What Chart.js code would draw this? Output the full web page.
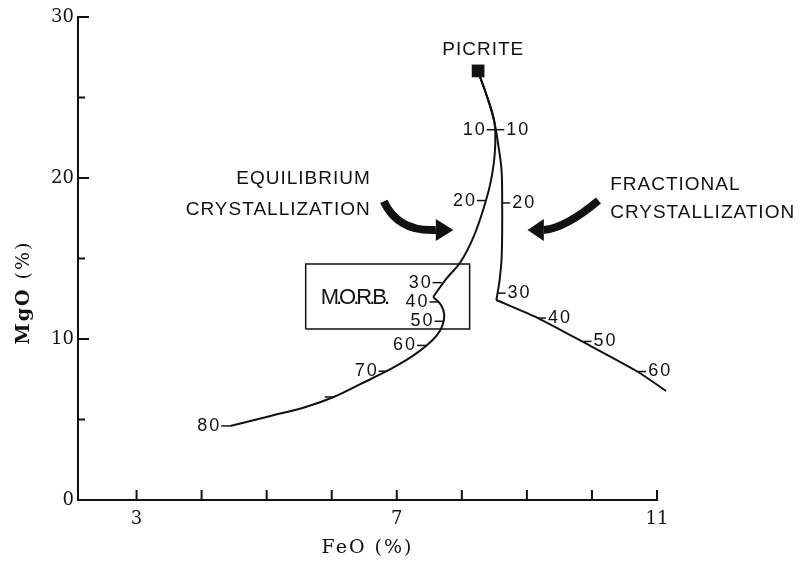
<!DOCTYPE html>
<html>
<head>
<meta charset="utf-8">
<title>MgO vs FeO - crystallization of picrite</title>
<script src="https://cdn.jsdelivr.net/npm/chart.js@4.4.1/dist/chart.umd.min.js"></script>
<style>
  html, body { margin: 0; padding: 0; background: #fff; }
  #wrap { width: 804px; height: 564px; position: relative; }
</style>
</head>
<body>
<div id="wrap"><canvas id="chart"></canvas></div>
<script>
// ---- data: FeO (%) on x, MgO (%) on y ----
const picriteFeO = [8.25];
const picriteMgO = [26.65];

// equilibrium crystallization path (split at the kink near 40 %)
const eqUpperFeO = [8.25, 8.38, 8.50, 8.51, 8.45, 8.35, 8.18, 7.98, 7.76, 7.56];
const eqUpperMgO = [26.6, 25.15, 23.48, 21.74, 19.88, 18.32, 16.34, 14.78, 13.73, 12.61];
const eqLowerFeO = [7.56, 7.68, 7.73, 7.70, 7.61, 7.45, 7.24, 7.02, 6.79, 6.44, 6.03, 5.60, 5.06, 4.44];
const eqLowerMgO = [12.61, 12.11, 11.49, 10.81, 10.19, 9.57, 8.94, 8.39, 7.89, 7.20, 6.40, 5.78, 5.22, 4.60];

// fractional crystallization path (split at the corner near 30 %)
const frUpperFeO = [8.25, 8.38, 8.50, 8.56, 8.61, 8.62, 8.62, 8.61, 8.58, 8.55, 8.53];
const frUpperMgO = [26.6, 25.15, 23.48, 22.05, 20.5, 18.63, 16.77, 14.91, 13.66, 12.86, 12.42];
const frLowerFeO = [8.53, 9.17, 9.87, 10.71, 11.14];
const frLowerMgO = [12.42, 11.3, 9.8, 7.95, 6.77];

// percent-crystallized marks along each path
const eqMarkLabels = ['10', '20', '30', '40', '50', '60', '70', '', '80'];
const eqMarkFeO = [8.52, 8.37, 7.69, 7.64, 7.72, 7.45, 6.86, 6.03, 4.44];
const eqMarkMgO = [23.0, 18.6, 13.5, 12.3, 11.1, 9.6, 8.0, 6.4, 4.6];
const frMarkLabels = ['10', '20', '30', '40', '50', '60'];
const frMarkFeO = [8.53, 8.62, 8.55, 9.17, 9.87, 10.71];
const frMarkMgO = [23.0, 18.45, 12.85, 11.3, 9.85, 7.98];

// M.O.R.B. field
const morbFeO = [5.60, 8.12, 8.12, 5.60, 5.60];
const morbMgO = [10.62, 10.62, 14.66, 14.66, 10.62];

// axes
const xTickValues = [3, 4, 5, 6, 7, 8, 9, 10, 11];
const xTickLabels = [3, 7, 11];
const yTickValues = [0, 5, 10, 15, 20, 25, 30];
const yTickLabels = [0, 10, 20, 30];

const INK = '#111';
const SERIF = '"DejaVu Serif", serif';
const SANS = '"Liberation Sans", Arial, sans-serif';

const toPoints = (xs, ys) => xs.map((v, i) => ({ x: v, y: ys[i] }));

function lineSet(xs, ys, tension) {
    return {
        data: toPoints(xs, ys),
        showLine: true,
        borderColor: INK,
        borderWidth: 2,
        pointRadius: 0,
        tension: tension,
        clip: false
    };
}

// draws inward axis ticks, path marks, arrows and lettering
const annotate = {
    id: 'annotate',
    afterDraw(chart) {
        const { ctx, chartArea: area, scales: { x, y } } = chart;
        const X = v => x.getPixelForValue(v);
        const Y = v => y.getPixelForValue(v);
        ctx.save();
        ctx.strokeStyle = INK;
        ctx.fillStyle = INK;

        // inward tick marks
        ctx.lineWidth = 2;
        xTickValues.forEach(v => {
            ctx.beginPath();
            ctx.moveTo(X(v), area.bottom);
            ctx.lineTo(X(v), area.bottom - 10);
            ctx.stroke();
        });
        yTickValues.forEach(v => {
            if (v === 0) return;
            const len = yTickLabels.includes(v) ? 11 : 7;
            ctx.beginPath();
            ctx.moveTo(area.left, Y(v));
            ctx.lineTo(area.left + len, Y(v));
            ctx.stroke();
        });

        // percent marks on the two paths
        ctx.lineWidth = 1.5;
        ctx.font = '18px ' + SANS;
        ctx.letterSpacing = '2px';
        ctx.textBaseline = 'middle';
        eqMarkLabels.forEach((lab, i) => {
            const px = X(eqMarkFeO[i]), py = Y(eqMarkMgO[i]);
            ctx.beginPath();
            ctx.moveTo(px, py);
            ctx.lineTo(px - 9, py);
            ctx.stroke();
            ctx.textAlign = 'right';
            ctx.fillText(lab, px - 9, py);
        });
        frMarkLabels.forEach((lab, i) => {
            const px = X(frMarkFeO[i]), py = Y(frMarkMgO[i]);
            ctx.beginPath();
            ctx.moveTo(px, py);
            ctx.lineTo(px + 8, py);
            ctx.stroke();
            ctx.textAlign = 'left';
            ctx.fillText(lab, px + 10, py);
        });

        // curved arrows
        function arrow(tail, ctrl, base, tip, half) {
            ctx.lineWidth = 8;
            ctx.lineCap = 'butt';
            ctx.beginPath();
            ctx.moveTo(X(tail[0]), Y(tail[1]));
            ctx.quadraticCurveTo(X(ctrl[0]), Y(ctrl[1]), X(base[0]), Y(base[1]));
            ctx.stroke();
            ctx.beginPath();
            ctx.moveTo(X(tip[0]), Y(tip[1]));
            ctx.lineTo(X(base[0]), Y(base[1]) - half);
            ctx.lineTo(X(base[0]), Y(base[1]) + half);
            ctx.closePath();
            ctx.fill();
        }
        arrow([6.80, 18.55], [7.02, 16.65], [7.60, 16.77], [7.87, 16.77], 11);
        arrow([10.10, 18.60], [9.60, 16.90], [9.26, 16.77], [9.01, 16.77], 11);

        // lettering
        ctx.font = '19px ' + SANS;
        ctx.letterSpacing = '1px';
        ctx.textAlign = 'center';
        ctx.fillText('PICRITE', X(8.33), Y(27.95));
        ctx.textAlign = 'right';
        ctx.fillText('EQUILIBRIUM', X(6.60), Y(19.97));
        ctx.fillText('CRYSTALLIZATION', X(6.60), Y(18.01));
        ctx.textAlign = 'left';
        ctx.fillText('FRACTIONAL', X(10.28), Y(19.57));
        ctx.fillText('CRYSTALLIZATION', X(10.28), Y(17.83));
        ctx.font = '22px ' + SANS;
        ctx.letterSpacing = '-3px';
        ctx.fillText('M.O.R.B.', X(5.83), Y(12.52));

        // axis titles
        ctx.letterSpacing = '2px';
        ctx.font = '19px ' + SERIF;
        ctx.textAlign = 'center';
        ctx.fillText('FeO (%)', (area.left + area.right) / 2, area.bottom + 48);

        ctx.translate(area.left - 54, (area.top + area.bottom) / 2 + 34);
        ctx.rotate(-Math.PI / 2);
        ctx.font = 'bold 19px ' + SERIF;
        const w1 = ctx.measureText('MgO').width;
        ctx.font = '19px ' + SERIF;
        const w2 = ctx.measureText(' (%)').width;
        ctx.textAlign = 'left';
        ctx.font = 'bold 19px ' + SERIF;
        ctx.fillText('MgO', -(w1 + w2) / 2, 0);
        ctx.font = '19px ' + SERIF;
        ctx.fillText(' (%)', -(w1 + w2) / 2 + w1, 0);

        ctx.restore();
    }
};

Chart.defaults.font.family = SERIF;
Chart.defaults.color = INK;

new Chart(document.getElementById('chart'), {
    type: 'scatter',
    data: {
        datasets: [
            lineSet(eqUpperFeO, eqUpperMgO, 0.4),
            lineSet(eqLowerFeO, eqLowerMgO, 0.4),
            lineSet(frUpperFeO, frUpperMgO, 0.4),
            lineSet(frLowerFeO, frLowerMgO, 0.2),
            Object.assign(lineSet(morbFeO, morbMgO, 0), { borderWidth: 1.5 }),
            {
                data: toPoints(picriteFeO, picriteMgO),
                pointStyle: 'rect',
                pointRadius: 9,
                backgroundColor: INK,
                borderColor: INK,
                borderWidth: 0
            }
        ]
    },
    options: {
        responsive: true,
        maintainAspectRatio: false,
        animation: false,
        layout: { padding: { top: 17, right: 147, left: 0, bottom: 0 } },
        plugins: { legend: { display: false }, tooltip: { enabled: false } },
        scales: {
            x: {
                type: 'linear',
                min: 2.1,
                max: 11,
                afterBuildTicks: s => { s.ticks = xTickValues.map(v => ({ value: v })); },
                afterFit: s => { s.height = 64; },
                grid: { display: false, drawTicks: false },
                border: { display: true, color: INK, width: 2 },
                ticks: {
                    autoSkip: false,
                    maxRotation: 0,
                    padding: 9,
                    font: { size: 18 },
                    callback: v => (xTickLabels.includes(v) ? String(v) : '')
                }
            },
            y: {
                type: 'linear',
                min: 0,
                max: 30,
                afterBuildTicks: s => { s.ticks = yTickValues.map(v => ({ value: v })); },
                afterFit: s => { s.width = 78; },
                grid: { display: false, drawTicks: false },
                border: { display: true, color: INK, width: 2 },
                ticks: {
                    autoSkip: false,
                    padding: 4,
                    font: { size: 18 },
                    callback: v => (yTickLabels.includes(v) ? String(v) : '')
                }
            }
        }
    },
    plugins: [annotate]
});
</script>
</body>
</html>
